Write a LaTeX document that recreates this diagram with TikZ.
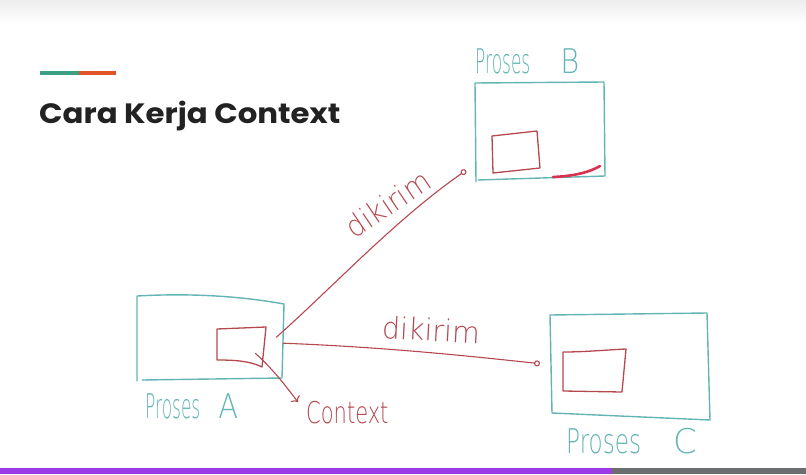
\documentclass[tikz,border=0pt]{standalone}
\usepackage{fontspec}
\setmainfont{Liberation Sans}
\newfontfamily\titlefont{Poppins}
\newfontfamily\hand{DejaVu Sans ExtraLight}
\usetikzlibrary{arrows.meta}
\definecolor{ink}{HTML}{62B4B5}
\definecolor{pen}{HTML}{B5474F}
\definecolor{marker}{HTML}{D9324E}
\definecolor{titleink}{HTML}{222222}
\definecolor{accentA}{HTML}{3A9F83}
\definecolor{accentB}{HTML}{E0522A}
\definecolor{barA}{HTML}{9B3BE8}
\definecolor{barB}{HTML}{6B6E6E}
\begin{document}
\begin{tikzpicture}[x=1pt,y=-1pt,line cap=round,line join=round,
  frame/.style={inner sep=0pt,anchor=north west},
  procline/.style={draw=ink,line width=1.4pt},
  ctxline/.style={draw=pen,line width=1.3pt},
  handlabel/.style={text=ink,font=\hand\fontsize{34}{34}\selectfont,inner sep=0pt},
  penlabel/.style={text=pen,font=\hand\fontsize{30}{30}\selectfont,inner sep=0pt},
  send/.style={draw=pen,line width=1.1pt,-{Circle[open,length=6pt,width=6pt]}},
  ctxarrow/.style={draw=pen,line width=1.1pt,-{To[length=5pt,width=11pt]}}]
\useasboundingbox (0,0) rectangle (806,474);
% header shade and footer bar
\shade[top color=black!7,bottom color=white] (0,0) rectangle (806,24);
\fill[barA] (0,468) rectangle (612,474);
\fill[barB] (612,468) rectangle (806,474);
% title with accent rule
\fill[accentA] (40,71) rectangle (79,75);
\fill[accentB] (79,71) rectangle (116,75);
\node[anchor=base west,inner sep=0pt,text=titleink,font=\titlefont\bfseries\fontsize{28}{28}\selectfont] (title) at (39,123) {\scalebox{1.1}[1]{Cara Kerja Context}};
% process frames (hand-drawn outlines around them)
\node[frame,minimum width=146pt,minimum height=84pt] (boxA) at (137,296) {};
\node[frame,minimum width=130pt,minimum height=97pt] (boxB) at (475,83) {};
\node[frame,minimum width=160pt,minimum height=107pt] (boxC) at (550,313) {};
\draw[procline] (137,296) .. controls (190,293) and (240,296) .. (284,304) -- (282,378) -- (142,380) (137,296) -- (137,381);
\draw[procline] (475,83) -- (604,82) -- (605,176) -- (478,180) (475,83) -- (476,182);
\draw[procline] (550,315) -- (707,313) -- (710,420) -- (552,413) -- cycle;
% context blocks
\node[frame,minimum width=49pt,minimum height=38pt] (ctxA) at (217,329) {};
\node[frame,minimum width=48pt,minimum height=42pt] (ctxB) at (492,131) {};
\node[frame,minimum width=63pt,minimum height=43pt] (ctxC) at (563,349) {};
\draw[ctxline] (217,329) -- (266,327) -- (262,367) .. controls (250,361) and (235,360) .. (217,360) -- cycle;
\draw[ctxline] (492,136) -- (537,131) -- (540,168) -- (493,173) -- cycle;
\draw[ctxline] (563,352) .. controls (585,352) and (605,350) .. (626,349) -- (622,392) -- (563,391) -- cycle;
\draw[marker,line width=2.6pt] (553,177) .. controls (575,176) and (590,172) .. (600,166);
% labels
\node[handlabel,anchor=base west] (labA) at (145,418) {\scalebox{0.5}[1]{Proses}\hspace{18pt}\scalebox{0.85}[1]{A}};
\node[handlabel,anchor=base west] (labB) at (475,73) {\scalebox{0.5}[1]{Proses}\hspace{30pt}\scalebox{0.85}[1]{B}};
\node[handlabel,anchor=base west] (labC) at (566,453) {\scalebox{0.68}[1]{Proses}\hspace{32pt}\scalebox{1}[1]{C}};
\node[penlabel,anchor=base west] (ctxlab) at (306,423) {\scalebox{0.7}[1]{Context}};
\node[penlabel,rotate=34] (sendB) at (388,204) {\scalebox{0.92}[1]{dikirim}};
\node[penlabel,rotate=-3] (sendC) at (431,330) {\scalebox{0.95}[1]{dikirim}};
% sending the context
\draw[send] ([xshift=-7pt,yshift=1pt]boxA.east) .. controls (335,285) and (395,220) .. ([shift={(-9pt,10pt)}]boxB.south west);
\draw[send] ([shift={(0pt,-5pt)}]boxA.east) .. controls (380,347) and (460,355) .. ([shift={(-10pt,3pt)}]boxC.west);
\draw[ctxarrow] ([shift={(-11pt,14pt)}]ctxA.south east) .. controls (272,368) and (285,385) .. ([shift={(-8pt,10pt)}]ctxlab.west);
\end{tikzpicture}
\end{document}
